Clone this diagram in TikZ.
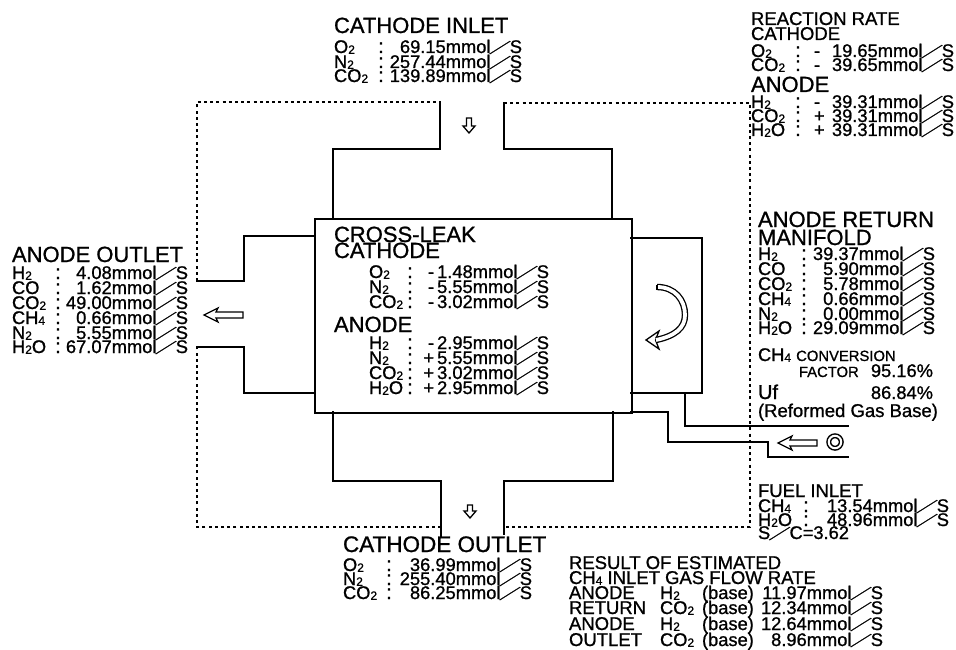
\documentclass[tikz,border=0pt]{standalone}
\usepackage{graphicx}
\usepackage{fontspec}
\setmainfont{Liberation Sans}[FakeBold=1.0]
\newfontfamily\cjkfont{Noto Sans CJK JP}[FakeBold=1.0]
\newcommand{\subd}[1]{\raisebox{-0.8pt}{\fontsize{12}{12}\selectfont #1}}
\newcommand{\fwslash}{{\cjkfont\scalebox{1.24}[0.78]{／}}}
\newcommand{\unitS}{mmol\hspace{-1.9pt}\fwslash\hspace{-1.5pt}S}
\newcommand{\sgn}[1]{\makebox[18pt][l]{#1}}
% label / colon / value row: name, y, label, value ; columns in \xa \xb \xc
\newcommand{\frow}[4]{%
  \node[dt,anchor=base west] (#1l) at (\xa,#2) {#3};
  \node[dt,anchor=base,font=\fontsize{20}{20}\selectfont] (#1c) at (\xb,#2) {:};
  \node[dt,anchor=base east] (#1v) at (\xc,#2) {#4\unitS};}
\tikzset{
  x=1pt,y=-1pt,
  dt/.style={inner sep=0,outer sep=0,font=\fontsize{18.3}{18.3}\selectfont},
  hd/.style={inner sep=0,outer sep=0,anchor=base west,font=\fontsize{22}{22}\selectfont},
  hm/.style={inner sep=0,outer sep=0,anchor=base west,font=\fontsize{18.5}{18.5}\selectfont},
  solidline/.style={line width=1.6pt,line join=miter,line cap=rect},
  dotline/.style={line width=1.1pt,dash pattern=on 3pt off 3.2pt},
  hollow/.style={draw,line width=1.3pt,fill=white,line join=miter},
}
\begin{document}
\begin{tikzpicture}
\useasboundingbox (0,0) rectangle (956,650);
% dotted envelope
\draw[dotline] (197,281) -- (197,102) -- (440,102);
\draw[dotline] (504,103) -- (750,103) -- (750,527) -- (504,527);
\draw[dotline] (441,527) -- (197,527) -- (197,347);
% stack
\node[draw,line width=1.6pt,inner sep=0,minimum width=317pt,minimum height=194pt,anchor=north west] (stack) at (314,218) {};
% cathode inlet manifold
\draw[solidline] (440,102) -- (440,149) -- (333,149) -- (333,218);
\draw[solidline] (504,103) -- (504,149) -- (612,149) -- (612,218);
% cathode outlet manifold
\draw[solidline] (333,412) -- (333,481) -- (441,481) -- (441,536);
\draw[solidline] (613,412) -- (613,481) -- (504,481) -- (504,534);
% anode outlet manifold
\draw[solidline] (314,236) -- (244,236) -- (244,281) -- (197,281);
\draw[solidline] (314,393) -- (244,393) -- (244,347) -- (197,347);
% return manifold
\draw[solidline] (631,238) -- (702,238) -- (702,393) -- (631,393);
% fuel pipes
\draw[solidline] (685,393) -- (685,426) -- (848,426);
\draw[solidline] (631,412) -- (668,412) -- (668,442) -- (768,442) -- (768,457) -- (848,457);
% flow arrows
\draw[hollow] (469,133) -- (463,126) -- (466.5,126) -- (466.5,118) -- (471.5,118) -- (471.5,126) -- (475,126) -- cycle;
\draw[hollow] (470,518) -- (464,511) -- (467.5,511) -- (467.5,505) -- (472.5,505) -- (472.5,511) -- (476,511) -- cycle;
\draw[hollow] (204,315) -- (218,308) -- (216,312) -- (243,312) -- (243,318) -- (216,318) -- (218,322) -- cycle;
\draw[hollow] (778,443) -- (792,436) -- (790,440) -- (817,440) -- (817,446) -- (790,446) -- (792,450) -- cycle;
\node[draw,circle,line width=1.5pt,double=white,double distance=2pt,minimum size=12.5pt,inner sep=0] (ring) at (835,442) {};
% recirculation arrow
\draw[hollow] (646,340) -- (659,331) -- (655.5,340) -- (659,349) -- cycle;
\draw[line width=1.3pt,double=white,double distance=3.8pt] (657,287) .. controls (675,287) and (685,300) .. (685,315) .. controls (685,328) and (675,336) .. (656,340);
\draw[line width=1.3pt] (657,284.5) -- (657,290);
% CATHODE INLET
\node[hd] (ci) at (334,33) {CATHODE INLET};
\def\xa{334}\def\xb{381}\def\xc{522}
\frow{cia}{53}{O\subd{2}}{69.15}
\frow{cib}{68}{N\subd{2}}{257.44}
\frow{cic}{82}{CO\subd{2}}{139.89}
% REACTION RATE
\node[hm] (rr) at (751,25) {REACTION RATE};
\node[hm] (rc) at (751,40) {CATHODE};
\def\xa{751}\def\xb{798}\def\xc{954}
\frow{rca}{57}{O\subd{2}}{\sgn{-}19.65}
\frow{rcb}{71}{CO\subd{2}}{\sgn{-}39.65}
\node[hd] (ra) at (751,92) {ANODE};
\frow{raa}{108}{H\subd{2}}{\sgn{-}39.31}
\frow{rab}{122}{CO\subd{2}}{\sgn{+}39.31}
\frow{rac}{136}{H\subd{2}O}{\sgn{+}39.31}
% CROSS-LEAK
\node[hd] (cl) at (334,242) {CROSS-LEAK};
\node[hd] (clc) at (334,258) {CATHODE};
\def\xa{369}\def\xb{410}\def\xc{549}
\frow{cla}{278}{O\subd{2}}{-\,1.48}
\frow{clb}{293}{N\subd{2}}{-\,5.55}
\frow{clc}{308}{CO\subd{2}}{-\,3.02}
\node[hd] (cla) at (334,332) {ANODE};
\frow{cld}{349}{H\subd{2}}{-\,2.95}
\frow{cle}{364}{N\subd{2}}{+\,5.55}
\frow{clf}{379}{CO\subd{2}}{+\,3.02}
\frow{clg}{394}{H\subd{2}O}{+\,2.95}
% ANODE OUTLET
\node[hd] (ao) at (12,262) {ANODE OUTLET};
\def\xa{12}\def\xb{58}\def\xc{188}
\frow{aoa}{279}{H\subd{2}}{4.08}
\frow{aob}{294}{CO}{1.62}
\frow{aoc}{309}{CO\subd{2}}{49.00}
\frow{aod}{324}{CH\subd{4}}{0.66}
\frow{aoe}{339}{N\subd{2}}{5.55}
\frow{aof}{353}{H\subd{2}O}{67.07}
% ANODE RETURN MANIFOLD
\node[hd] (arm) at (758,227) {ANODE RETURN};
\node[hd] (arm2) at (758,245) {MANIFOLD};
\def\xa{758}\def\xb{804}\def\xc{935}
\frow{ara}{260}{H\subd{2}}{39.37}
\frow{arb}{275}{CO}{5.90}
\frow{arc}{290}{CO\subd{2}}{5.78}
\frow{ard}{305}{CH\subd{4}}{0.66}
\frow{are}{320}{N\subd{2}}{0.00}
\frow{arf}{334}{H\subd{2}O}{29.09}
% conversion
\node[dt,anchor=base west] (cf1) at (758,361) {CH\subd{4} {\fontsize{14.8}{15}\selectfont CONVERSION}};
\node[dt,anchor=base west] (cf2) at (799,377) {\fontsize{14.8}{15}\selectfont FACTOR};
\node[dt,anchor=base east] (cf3) at (933,377) {95.16\%};
\node[dt,anchor=base west] (uf1) at (758,399) {\fontsize{20}{20}\selectfont Uf};
\node[dt,anchor=base east] (uf2) at (933,399) {86.84\%};
\node[hm] (uf3) at (758,417) {(Reformed Gas Base)};
% FUEL INLET
\node[hm] (fi) at (758,497) {FUEL INLET};
\def\xa{758}\def\xb{806}\def\xc{949}
\frow{fia}{512}{CH\subd{4}}{13.54}
\frow{fib}{526}{H\subd{2}O}{48.96}
\node[dt,anchor=base west] (fic) at (758,539) {S\hspace{-1.9pt}\fwslash\hspace{-1.5pt}C=3.62};
% CATHODE OUTLET
\node[hd,font=\fontsize{22.5}{22.5}\selectfont] (co) at (343,552) {CATHODE OUTLET};
\def\xa{343}\def\xb{389}\def\xc{532}
\frow{coa}{571}{O\subd{2}}{36.99}
\frow{cob}{585}{N\subd{2}}{255.40}
\frow{coc}{599}{CO\subd{2}}{86.25}
% RESULT
\node[hm] (re1) at (569,569) {RESULT OF ESTIMATED};
\node[hm] (re2) at (569,584) {CH\subd{4} INLET GAS FLOW RATE};
\newcommand{\rrow}[5]{%
  \node[hm] (#1a) at (569,#2) {#3};
  \node[dt,anchor=base west] (#1b) at (660,#2) {#4};
  \node[dt,anchor=base west] (#1c) at (702,#2) {(base)};
  \node[dt,anchor=base east] (#1d) at (883,#2) {#5\unitS};}
\rrow{ra}{599}{ANODE}{H\subd{2}}{11.97}
\rrow{rb}{614}{RETURN}{CO\subd{2}}{12.34}
\rrow{rc}{630}{ANODE}{H\subd{2}}{12.64}
\rrow{rd}{646}{OUTLET}{CO\subd{2}}{8.96}
\end{tikzpicture}
\end{document}
